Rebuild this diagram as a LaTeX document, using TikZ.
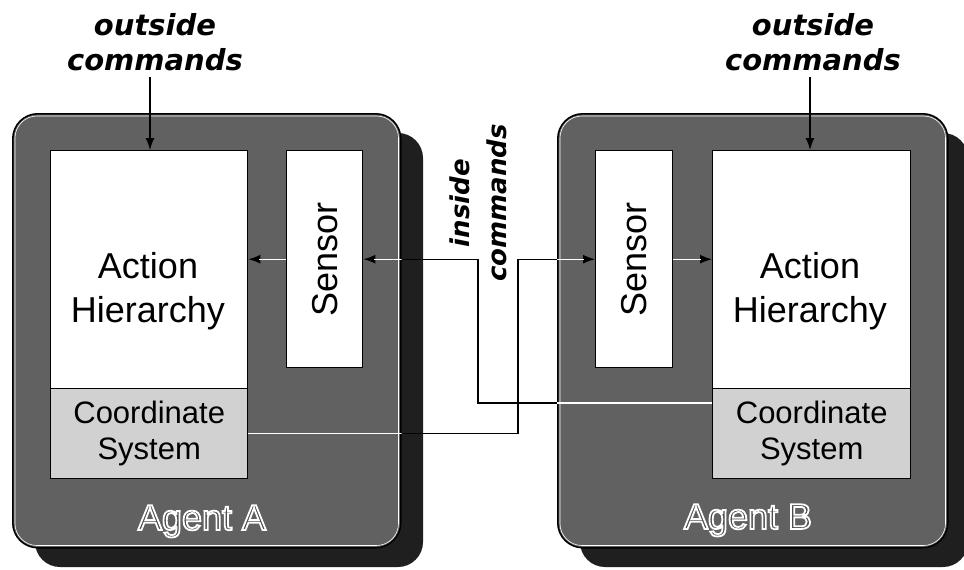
\documentclass[tikz,border=0pt]{standalone}
\usepackage{fontspec}
\setmainfont{Liberation Sans}
\newfontfamily\cmdfont{DejaVu Sans}[ItalicFont={DejaVu Sans Oblique},BoldFont={DejaVu Sans Bold},BoldItalicFont={DejaVu Sans Bold Oblique}]
\usetikzlibrary{arrows.meta,calc}
% text drawn with a white stroke round each glyph (fill + stroke render mode)
\newcommand\outlined[1]{\special{pdf:literal direct 2 Tr 1.8 w 1 1 1 RG}#1\special{pdf:literal direct 0 Tr}}

\begin{document}
\begin{tikzpicture}[x=1pt,y=-1pt,
  panel/.style={draw=black, line width=1.5pt, fill=black!62, rounded corners=25pt,
                inner sep=0pt, anchor=north west},
  shade/.style={fill=black!88, rounded corners=25pt},
  box/.style={draw=black, line width=1.4pt, fill=white, inner sep=0pt, anchor=north west},
  csbox/.style={box, fill=black!18},
  big/.style={font=\fontsize{36}{44}\selectfont, align=center},
  mid/.style={font=\fontsize{31}{36}\selectfont, align=center},
  cmd/.style={font=\cmdfont\bfseries\itshape\fontsize{29}{35}\selectfont, align=center},
  cmdsmall/.style={font=\cmdfont\bfseries\itshape\fontsize{26}{37}\selectfont, align=center},
  agent/.style={font=\fontsize{36}{40}\selectfont, anchor=base, inner sep=0pt, text=black!70},
  wire/.style={line width=1.3pt},
  tip/.style={-{Latex[length=12pt,width=9pt]}},
]
\useasboundingbox (0,0) rectangle (964,570);

% drop shadows of the two agents
\fill[shade] (35,133) rectangle (423,567);
\fill[shade] (580,133) rectangle (968,567);

% agent panels
\node[panel, minimum width=388, minimum height=434] (panA) at (12,113) {};
\node[panel, minimum width=390, minimum height=434] (panB) at (557,113) {};
\draw[white, line width=0.6pt, rounded corners=22pt]
  ([shift={(3,3)}]panA.north west) rectangle ([shift={(-3,-3)}]panA.south east);
\draw[white, line width=0.6pt, rounded corners=22pt]
  ([shift={(3,3)}]panB.north west) rectangle ([shift={(-3,-3)}]panB.south east);

% agent A blocks
\node[box, minimum width=197, minimum height=238] (ahA) at (50,150) {};
\node[csbox, minimum width=197, minimum height=90] (csA) at (50,388) {};
\node[box, minimum width=76, minimum height=217] (sA) at (286,150) {};

% agent B blocks
\node[box, minimum width=77, minimum height=217] (sB) at (595,150) {};
\node[box, minimum width=198, minimum height=238] (ahB) at (712,150) {};
\node[csbox, minimum width=198, minimum height=90] (csB) at (712,388) {};

% block labels
\node[big] (ahAt) at (148,291) {Action\\Hierarchy};
\node[big] (ahBt) at (810,291) {Action\\Hierarchy};
\node[mid] (csAt) at (csA.center) {Coordinate\\System};
\node[mid] (csBt) at (csB.center) {Coordinate\\System};
\node[big, rotate=90] (sAt) at (sA.center) {Sensor};
\node[big, rotate=90] (sBt) at (sB.center) {Sensor};

% command labels
\node[cmd] (ocAt) at (155,42) {outside\\commands};
\node[cmd] (ocBt) at (813,42) {outside\\commands};
\node[cmdsmall, rotate=90] (icT) at (478,203) {inside\\commands};

% connector helpers
\coordinate (ocA) at (150,77);
\coordinate (ocB) at (810,77);
\coordinate (jxA) at (478,0);
\coordinate (jxB) at (518,0);
\coordinate (bOut) at ([yshift=-15pt]csB.north west);

% connectors
\draw[wire,tip] (ocA) -- (ocA |- ahA.north);
\draw[wire,tip] (ocB) -- (ocB |- ahB.north);
\draw[wire,tip] (sA.west) -- (sA.west -| ahA.east);
\draw[wire,tip] (sB.east) -- (sB.east -| ahB.west);
\draw[wire,tip] (bOut) -- (bOut -| jxA) -- (jxA |- sA.east) -- (sA.east);
\draw[wire,tip] (csA.east) -- (csA.east -| jxB) -- (jxB |- sB.west) -- (sB.west);

% wires show light where they cross the agent panels
\begin{scope}
  \clip[rounded corners=25pt] (panA.north west) rectangle (panA.south east)
                              (panB.north west) rectangle (panB.south east);
  \draw[wire, white, shorten >=11pt] (sA.west) -- (sA.west -| ahA.east);
  \draw[wire, white, shorten >=11pt] (sB.east) -- (sB.east -| ahB.west);
  \draw[wire, white, shorten >=11pt] (bOut) -- (bOut -| jxA) -- (jxA |- sA.east) -- (sA.east);
  \draw[wire, white, shorten >=11pt] (csA.east) -- (csA.east -| jxB) -- (jxB |- sB.west) -- (sB.west);
\end{scope}

% outlined agent names
\node[agent] (agA) at (202,530) {\outlined{Agent A}};
\node[agent] (agB) at (748,529) {\outlined{Agent B}};
\end{tikzpicture}
\end{document}
